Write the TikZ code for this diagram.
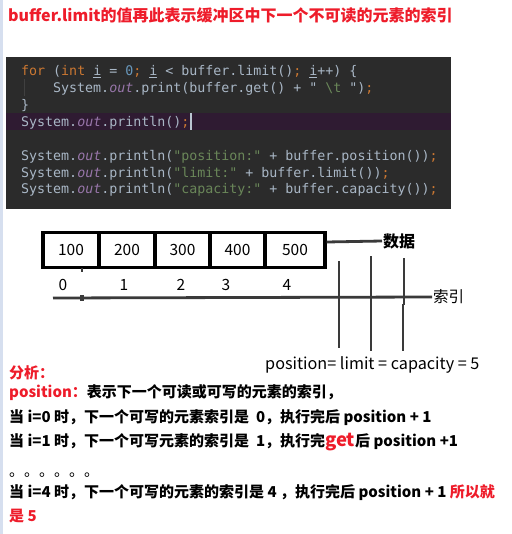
\documentclass[tikz,border=0pt]{standalone}
\usepackage{fontspec}
\setmonofont{DejaVu Sans Mono}
\newfontfamily\cjk{Noto Sans CJK SC}
\usetikzlibrary{positioning}
\definecolor{sidebar}{HTML}{D6DFEF}
\definecolor{codebg}{HTML}{2B2B2B}
\definecolor{linebg}{HTML}{2F1B32}
\definecolor{codetxt}{HTML}{A9B7C6}
\definecolor{codekw}{HTML}{CC7832}
\definecolor{codenum}{HTML}{6897BB}
\definecolor{codefld}{HTML}{9876AA}
\definecolor{codestr}{HTML}{6A8759}
\definecolor{notered}{HTML}{EE1C2A}
\definecolor{guidegray}{HTML}{3A3A3A}
\newcommand{\kw}[1]{\textcolor{codekw}{#1}}
\newcommand{\cnum}[1]{\textcolor{codenum}{#1}}
\newcommand{\fld}[1]{\textcolor{codefld}{\itshape #1}}
\newcommand{\cstr}[1]{\textcolor{codestr}{#1}}
\tikzset{
  every picture/.style={line cap=butt, line join=miter},
  % code lines
  codeline/.style={anchor=base west, inner sep=0, text=codetxt,
    font=\ttfamily\fontsize{13.3}{16}\selectfont},
  % buffer cells
  cell/.style={draw=black, line width=3.2pt, minimum height=35pt, inner sep=0,
    font=\cjk\fontsize{15.5}{18}\selectfont},
  idxlbl/.style={anchor=base, inner sep=0, font=\cjk\fontsize{15.5}{18}\selectfont},
  guide/.style={draw=guidegray, line width=2.8pt},
  % notes below the picture
  note/.style={anchor=base west, inner sep=0, font=\cjk\bfseries\fontsize{15}{17}\selectfont},
  rednote/.style={note, text=notered},
}

\begin{document}
\begin{tikzpicture}[x=1pt, y=-1pt]
  \useasboundingbox (0,0) rectangle (511,534);
  \fill[white] (0,0) rectangle (511,534);
  \fill[sidebar] (0,0) rectangle (3,534);
  % title
  \node[anchor=base west, inner sep=0, text=notered, font=\cjk\bfseries\fontsize{16}{19}\selectfont]
    (title) at (8,22) {buffer.limit的值再此表示缓冲区中下一个不可读的元素的索引};
  % code block
  \fill[codebg] (6,57) rectangle (451,209);
  \fill[linebg] (6,113) rectangle (451,130);
  \draw[draw=black!75!white, line width=0.8pt] (24,79) -- (24,96);
  \node[codeline] (c1) at (21,76) {\kw{for} (\kw{int} \underline{i} = \cnum{0}\kw{;} \underline{i} < buffer.limit()\kw{;} \underline{i}++) \{};
  \node[codeline] (c2) at (53,93) {System.\fld{out}.print(buffer.get() + " \cstr{\textbackslash t} ")\kw{;}};
  \node[codeline] (c3) at (21,110) {\}};
  \node[codeline] (c4) at (21,127) {System.\fld{out}.println()\kw{;}};
  \draw[draw=codetxt!80!white, line width=1.5pt] (c4.base east) ++(1.5,-14) -- ++(0,17);
  \node[codeline] (c6) at (21,161) {System.\fld{out}.println(\cstr{"position:"} + buffer.position())\kw{;}};
  \node[codeline] (c7) at (21,178) {System.\fld{out}.println(\cstr{"limit:"} + buffer.limit())\kw{;}};
  \node[codeline] (c8) at (21,194) {System.\fld{out}.println(\cstr{"capacity:"} + buffer.capacity())\kw{;}};

  % buffer cells
  \node[cell, minimum width=56pt] (cellA) at (71,250) {100};
  \node[cell, minimum width=56pt] (cellB) at (127,250) {200};
  \node[cell, minimum width=55pt] (cellC) at (182.5,250) {300};
  \node[cell, minimum width=55pt] (cellD) at (237.5,250) {400};
  \node[cell, minimum width=60pt] (cellE) at (295,250) {500};
  \node[anchor=west, inner sep=1pt, font=\cjk\bfseries\fontsize{16}{19}\selectfont] (data) at (382,241) {数据};
  \draw[guide] ([yshift=8pt]cellE.east) -- (data.west);
  \draw[guide, line width=2.2pt] (82,268) -- (82,272);

  % index axis
  \foreach \n/\x in {0/63, 1/124, 2/181, 3/226, 4/287}
    \node[idxlbl] (idx\n) at (\x,290) {\n};
  \coordinate (axisL) at (53,298);
  \node[anchor=west, inner sep=1pt, font=\cjk\fontsize{15.5}{18}\selectfont] (axisR) at (432,297) {索引};
  \draw[guide] (axisL) -- (axisR.west);
  \draw[guide, line width=3.2pt] (82,295) -- (82,301);

  % position / limit / capacity markers
  \draw[guide] (339,261) -- (339,348);
  \draw[guide] (371,256) -- (371,351);
  \draw[guide] (404,258) -- (404,305);
  \draw[guide] (403,304) -- (403,351);
  \node[anchor=base west, inner sep=0, font=\cjk\fontsize{16.2}{19}\selectfont] (plc) at (265,369)
    {position= limit = capacity = 5};

  % analysis
  \node[rednote] (n0) at (9,378.5) {分析：};
  \node[note] (n1) at (9,397.5) {\textcolor{notered}{position：}表示下一个可读或可写的元素的索引，};
  \node[note] (n2) at (9,422.5) {当 i=0 时，下一个可写的元素索引是 \ 0，执行完后 position + 1};
  \node[note] (n3) at (9,446.5) {当 i=1 时，下一个可写元素的索引是 \ 1，执行完\textcolor{notered}{\fontsize{18.5}{20}\selectfont get}后 position +1};
  \node[note, font=\cjk\fontsize{15}{17}\selectfont] (n4) at (9,476) {。。。。。。};
  \node[note] (n5) at (9,497.5) {当 i=4 时，下一个可写的元素的索引是 4 ，执行完后 position + 1 \textcolor{notered}{所以就}};
  \node[rednote] (n6) at (9,521.5) {是 5};
\end{tikzpicture}
\end{document}
